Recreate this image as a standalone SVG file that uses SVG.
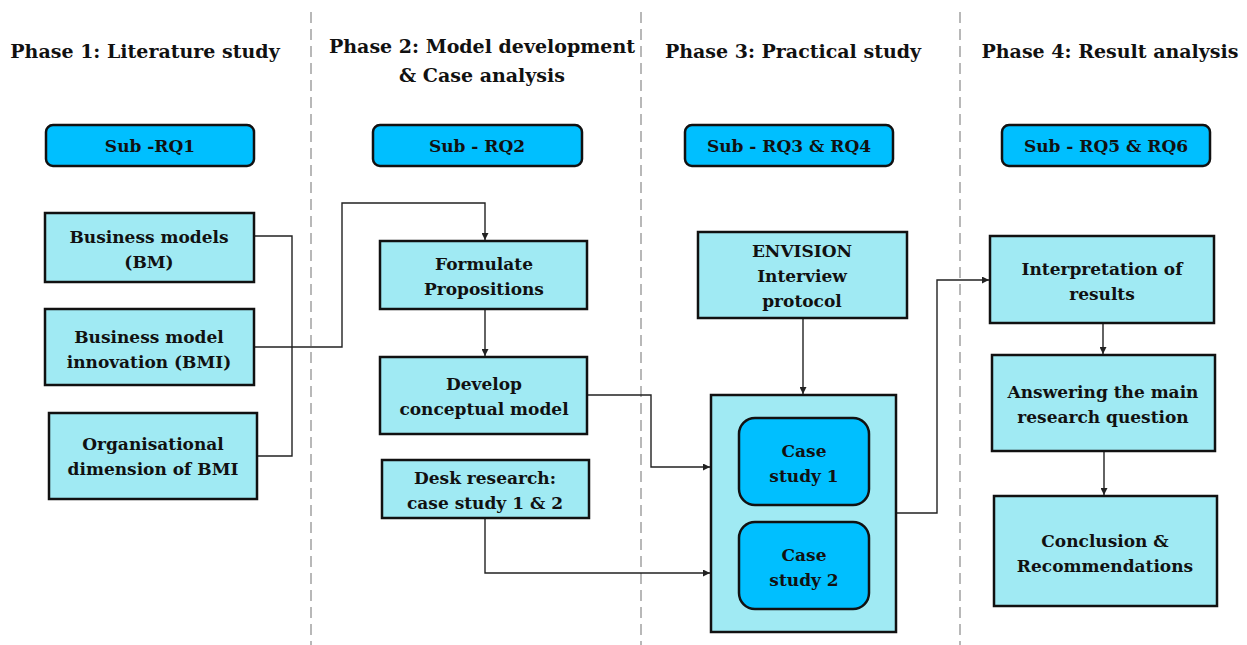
<svg xmlns="http://www.w3.org/2000/svg" width="1247" height="645" viewBox="0 0 1247 645">
<style>
.bg{fill:#ffffff}
.div{stroke:#b8b8b8;stroke-width:2;stroke-dasharray:11 6;fill:none}
.title{font-family:"DejaVu Serif","Liberation Serif",serif;font-weight:bold;font-size:19px;fill:#111;text-anchor:middle}
.t{font-family:"DejaVu Serif","Liberation Serif",serif;font-weight:bold;font-size:17px;fill:#111;text-anchor:middle}
.rq{fill:#00bfff;stroke:#111;stroke-width:2.5}
.box{fill:#a0eaf3;stroke:#111;stroke-width:2.5}
.cs{fill:#00bfff;stroke:#111;stroke-width:2.5}
.c{fill:none;stroke:#222;stroke-width:1.4}
</style>
<defs>
<marker id="ah" viewBox="0 0 10 10" refX="10" refY="5" markerWidth="7" markerHeight="7" markerUnits="userSpaceOnUse" orient="auto">
<path d="M0,0 L10,5 L0,10 z" fill="#222"/>
</marker>
</defs>
<rect class="bg" x="0" y="0" width="1247" height="645"/>
<g id="dividers">
<line class="div" x1="311" y1="12" x2="311" y2="645"/>
<line class="div" x1="641" y1="12" x2="641" y2="645"/>
<line class="div" x1="960" y1="12" x2="960" y2="645"/>
</g>
<g id="titles">
<text class="title" x="145" y="58">Phase 1: Literature study</text>
<text class="title" x="482" y="53">Phase 2: Model development</text>
<text class="title" x="482" y="82">&amp; Case analysis</text>
<text class="title" x="793" y="58">Phase 3: Practical study</text>
<text class="title" x="1110" y="58">Phase 4: Result analysis</text>
</g>
<g id="connectors">
<polyline class="c" points="254,236 292,236 292,456 257,456"/>
<polyline class="c" points="254,347 342,347 342,203 485,203 485,240" marker-end="url(#ah)"/>
<line class="c" x1="485" y1="309" x2="485" y2="356" marker-end="url(#ah)"/>
<polyline class="c" points="587,395 651,395 651,467 710,467" marker-end="url(#ah)"/>
<polyline class="c" points="485,518 485,573 710,573" marker-end="url(#ah)"/>
<line class="c" x1="803" y1="318" x2="803" y2="394" marker-end="url(#ah)"/>
<polyline class="c" points="896,513 937,513 937,280 989,280" marker-end="url(#ah)"/>
<line class="c" x1="1103" y1="323" x2="1103" y2="354" marker-end="url(#ah)"/>
<line class="c" x1="1104" y1="451" x2="1104" y2="495" marker-end="url(#ah)"/>
</g>
<g id="rq1"><rect class="rq" x="46" y="125" width="208" height="41" rx="7"/><text class="t" x="150" y="152">Sub -RQ1</text></g>
<g id="rq2"><rect class="rq" x="373" y="125" width="209" height="41" rx="7"/><text class="t" x="477" y="152">Sub - RQ2</text></g>
<g id="rq34"><rect class="rq" x="685" y="125" width="208" height="41" rx="7"/><text class="t" x="789" y="152">Sub - RQ3 &amp; RQ4</text></g>
<g id="rq56"><rect class="rq" x="1002" y="125" width="208" height="41" rx="7"/><text class="t" x="1106" y="152">Sub - RQ5 &amp; RQ6</text></g>
<g id="bm"><rect class="box" x="45" y="213" width="209" height="69"/><text class="t" x="149" y="243">Business models</text><text class="t" x="149" y="268">(BM)</text></g>
<g id="bmi"><rect class="box" x="45" y="309" width="209" height="76"/><text class="t" x="149" y="343">Business model</text><text class="t" x="149" y="368">innovation (BMI)</text></g>
<g id="org"><rect class="box" x="49" y="413" width="208" height="86"/><text class="t" x="153" y="450">Organisational</text><text class="t" x="153" y="475">dimension of BMI</text></g>
<g id="formulate"><rect class="box" x="380" y="241" width="207" height="68"/><text class="t" x="484" y="270">Formulate</text><text class="t" x="484" y="295">Propositions</text></g>
<g id="develop"><rect class="box" x="380" y="357" width="207" height="77"/><text class="t" x="484" y="390">Develop</text><text class="t" x="484" y="415">conceptual model</text></g>
<g id="desk"><rect class="box" x="382" y="460" width="207" height="58"/><text class="t" x="485" y="484">Desk research:</text><text class="t" x="485" y="509">case study 1 &amp; 2</text></g>
<g id="envision"><rect class="box" x="698" y="232" width="209" height="86"/><text class="t" x="802" y="257">ENVISION</text><text class="t" x="802" y="282">Interview</text><text class="t" x="802" y="307">protocol</text></g>
<g id="cases"><rect class="box" x="711" y="395" width="185" height="237"/></g>
<g id="cs1"><rect class="cs" x="739" y="418" width="130" height="87" rx="16"/><text class="t" x="804" y="457">Case</text><text class="t" x="804" y="482">study 1</text></g>
<g id="cs2"><rect class="cs" x="739" y="522" width="130" height="87" rx="16"/><text class="t" x="804" y="561">Case</text><text class="t" x="804" y="586">study 2</text></g>
<g id="interp"><rect class="box" x="990" y="236" width="224" height="87"/><text class="t" x="1102" y="275">Interpretation of</text><text class="t" x="1102" y="300">results</text></g>
<g id="answer"><rect class="box" x="992" y="355" width="223" height="96"/><text class="t" x="1103" y="398">Answering the main</text><text class="t" x="1103" y="423">research question</text></g>
<g id="concl"><rect class="box" x="994" y="496" width="223" height="110"/><text class="t" x="1105" y="547">Conclusion &amp;</text><text class="t" x="1105" y="572">Recommendations</text></g>
</svg>
